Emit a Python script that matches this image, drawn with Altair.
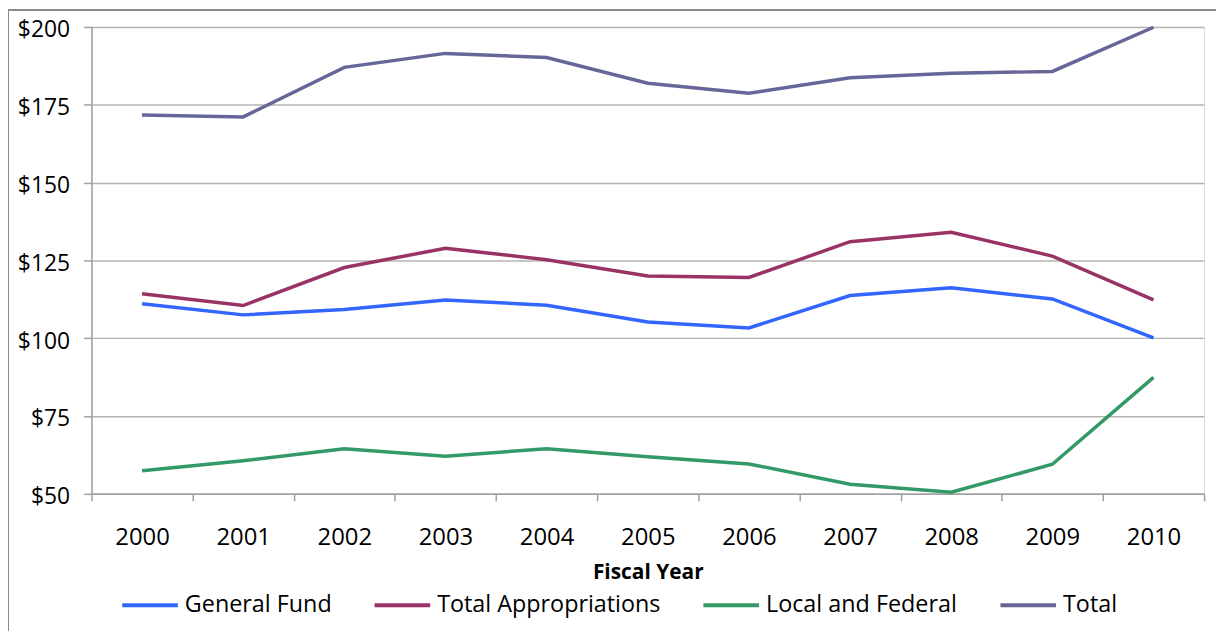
import altair as alt
import pandas as pd

years = ["2000", "2001", "2002", "2003", "2004", "2005", "2006", "2007", "2008", "2009", "2010"]
general_fund = [111.1, 107.5, 109.2, 112.3, 110.6, 105.2, 103.3, 113.7, 116.2, 112.6, 100.1]
total_appropriations = [114.3, 110.5, 122.7, 128.9, 125.2, 120.0, 119.5, 131.0, 134.0, 126.4, 112.3]
local_and_federal = [57.4, 60.6, 64.5, 62.1, 64.5, 61.9, 59.6, 53.1, 50.5, 59.5, 87.4]
total = [171.7, 171.1, 187.0, 191.5, 190.2, 181.9, 178.7, 183.7, 185.1, 185.7, 199.9]

series_names = ["General Fund", "Total Appropriations", "Local and Federal", "Total"]
series_colors = ["#3366ff", "#993366", "#339966", "#666699"]
y_ticks = [50, 75, 100, 125, 150, 175, 200]

rows = []
for name, vals in zip(series_names, [general_fund, total_appropriations, local_and_federal, total]):
    for yr, v in zip(years, vals):
        rows.append({"Year": yr, "Value": v, "Series": name})
df = pd.DataFrame(rows)

FONT = "Open Sans"

lines = alt.Chart(df).mark_line(strokeWidth=3.5).encode(
    x=alt.X("Year:N", sort=years,
            scale=alt.Scale(type="band", paddingInner=0, paddingOuter=0),
            axis=alt.Axis(title="Fiscal Year", labelAngle=0, tickBand="extent",
                          labelFontSize=24, labelColor="#000000", labelFont=FONT,
                          labelPadding=25, tickSize=7, tickColor="#a0a0a0",
                          domainColor="#a0a0a0", domainWidth=1.5, tickWidth=1.5,
                          titleFont=FONT, titleFontSize=21, titleFontWeight="bold",
                          titleColor="#000000", titlePadding=12, grid=False)),
    y=alt.Y("Value:Q", scale=alt.Scale(domain=[50, 200], nice=False, zero=False),
            axis=alt.Axis(title=None, values=y_ticks, labelExpr="'$' + datum.value",
                          labelFontSize=23, labelColor="#000000", labelFont=FONT,
                          labelPadding=14, labelOffset=3, tickSize=8, tickColor="#a0a0a0",
                          domainColor="#a0a0a0", domainWidth=1.5, tickWidth=1.5,
                          grid=True, gridColor="#b4b4b4", gridWidth=1.5)),
    color=alt.Color("Series:N", sort=series_names,
                    scale=alt.Scale(domain=series_names, range=series_colors),
                    legend=alt.Legend(title=None, orient="none", direction="horizontal",
                                      legendX=29, legendY=552,
                                      symbolType="stroke", symbolSize=3136,
                                      symbolStrokeWidth=4, labelFontSize=23.5,
                                      labelFont=FONT, labelColor="#000000",
                                      labelOffset=5, columnPadding=35,
                                      labelLimit=400)),
)

top_rule = alt.Chart(pd.DataFrame({"a": [0]})).mark_rule(color="#8c8c8c", strokeWidth=2).encode(
    x=alt.value(-84), x2=alt.value(1140), y=alt.value(-17))
left_rule = alt.Chart(pd.DataFrame({"a": [0]})).mark_rule(color="#8c8c8c", strokeWidth=2).encode(
    x=alt.value(-84), y=alt.value(-17), y2=alt.value(620))

chart = alt.layer(top_rule, left_rule, lines).properties(
    width=1120, height=470,
    autosize=alt.AutoSizeParams(type="none"),
    padding={"left": 84, "top": 17, "right": 12, "bottom": 136},
).configure_view(stroke=None).configure(background="white")

chart.save("out.html", embed_options={"renderer": "svg", "actions": False})
